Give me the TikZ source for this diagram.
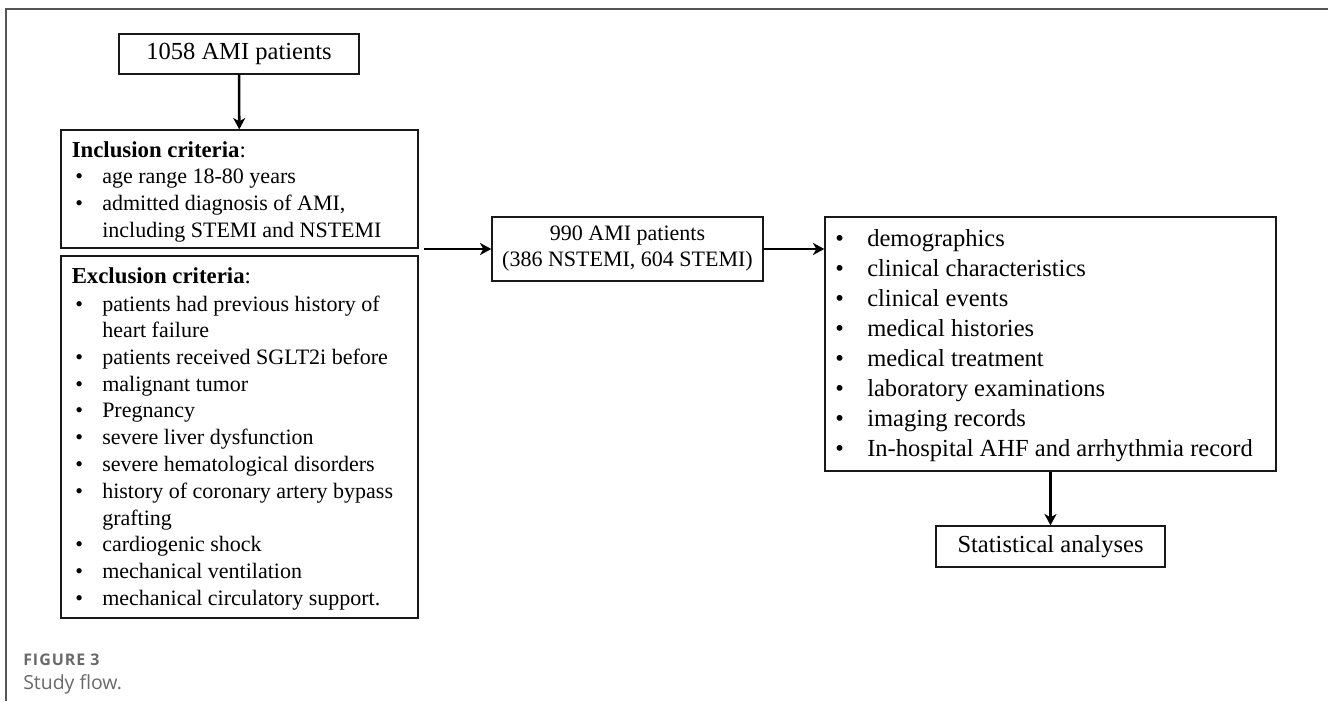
\documentclass[tikz,border=0pt]{standalone}
\usepackage{fontspec}
\setmainfont{Liberation Serif}
\newfontfamily\capfont{Open Sans}
\newfontfamily\capfontsp[LetterSpace=6]{Open Sans}
\usetikzlibrary{arrows.meta}
\definecolor{capgray}{HTML}{6A6A6A}
\definecolor{framegray}{HTML}{555555}
\tikzset{
  box/.style={draw=black!90, line width=1pt, inner sep=0pt, rectangle},
  conn/.style={draw=black, line width=1.9pt, -{Stealth[length=8.5pt, width=9pt, inset=2.5pt]}},
  txt/.style={inner sep=0pt, anchor=base west},
  small/.style={font=\fontsize{16.5}{19.8}\selectfont},
  large/.style={font=\fontsize{18.4}{22}\selectfont},
  head/.style={font=\fontsize{17.1}{20}\selectfont},
}
\begin{document}
\begin{tikzpicture}[x=0.75pt, y=-0.75pt]
\useasboundingbox (0,0) rectangle (1328,701);
% panel frame
\draw[framegray, line width=0.8pt] (1328,9) -- (6,9) -- (6,701);
% boxes
\node[box, large, minimum width=180pt, minimum height=30pt] (b1) at (239,54) {1058 AMI patients};
\node[box, minimum width=267.75pt, minimum height=88.5pt] (inc) at (239.5,189) {};
\node[box, minimum width=267.75pt, minimum height=271.5pt] (exc) at (239.5,437) {};
\node[box, small, align=center, minimum width=203.25pt, minimum height=48pt] (mid) at (627.5,249)
  {990 AMI patients\\[-0.3pt](386 NSTEMI, 604 STEMI)};
\node[box, minimum width=338.25pt, minimum height=190.5pt] (rgt) at (1050.5,344) {};
\node[box, large, minimum width=171.75pt, minimum height=30.75pt] (stat) at (1050.5,546.5) {Statistical analyses};
% inclusion text
\node[txt, head] (inch) at (71.5,157) {\textbf{Inclusion criteria}:};
\foreach \y/\t [count=\i] in {183/{age range 18-80 years}, 210/{admitted diagnosis of AMI,}} {
  \node[txt, small] (incb\i) at (75,\y) {•};
  \node[txt, small] (inci\i) at (102,\y) {\t};
}
\node[txt, small] (inci3) at (102,237) {including STEMI and NSTEMI};
% exclusion text
\node[txt, head] (exch) at (71.5,283) {\textbf{Exclusion criteria}:};
\foreach \y/\t [count=\i] in {
  311/patients had previous history of,
  364.3/patients received SGLT2i before,
  391/malignant tumor,
  417.7/Pregnancy,
  444.3/severe liver dysfunction,
  471/severe hematological disorders,
  498.3/history of coronary artery bypass,
  551.7/cardiogenic shock,
  578.3/mechanical ventilation,
  605/mechanical circulatory support.} {
  \node[txt, small] (excb\i) at (75,\y) {•};
  \node[txt, small] (exci\i) at (102,\y) {\t};
}
\node[txt, small] (excc1) at (102,337.3) {heart failure};
\node[txt, small] (excc2) at (102,525) {grafting};
% right list
\foreach \t [count=\i] in {demographics, clinical characteristics, clinical events, medical histories,
  medical treatment, laboratory examinations, imaging records, In-hospital AHF and arrhythmia record} {
  \node[txt, large] (rb\i) at (835,{216.5+30*\i}) {•};
  \node[txt, large] (ri\i) at (867,{216.5+30*\i}) {\t};
}
% connectors
\coordinate (lj) at (424,249);
\draw[conn] (b1) -- (inc);
\draw[conn] (lj) -- (mid);
\draw[conn] (mid) -- (rgt.west |- mid);
\draw[conn] (rgt) -- (stat);
% caption
\node[txt, capgray, font=\capfontsp\bfseries\fontsize{12}{14}\selectfont] (fig) at (23,665.5) {FIGURE 3};
\node[txt, capgray, font=\capfont\fontsize{14.6}{17}\selectfont] (cap) at (23,689) {Study flow.};
\end{tikzpicture}
\end{document}
